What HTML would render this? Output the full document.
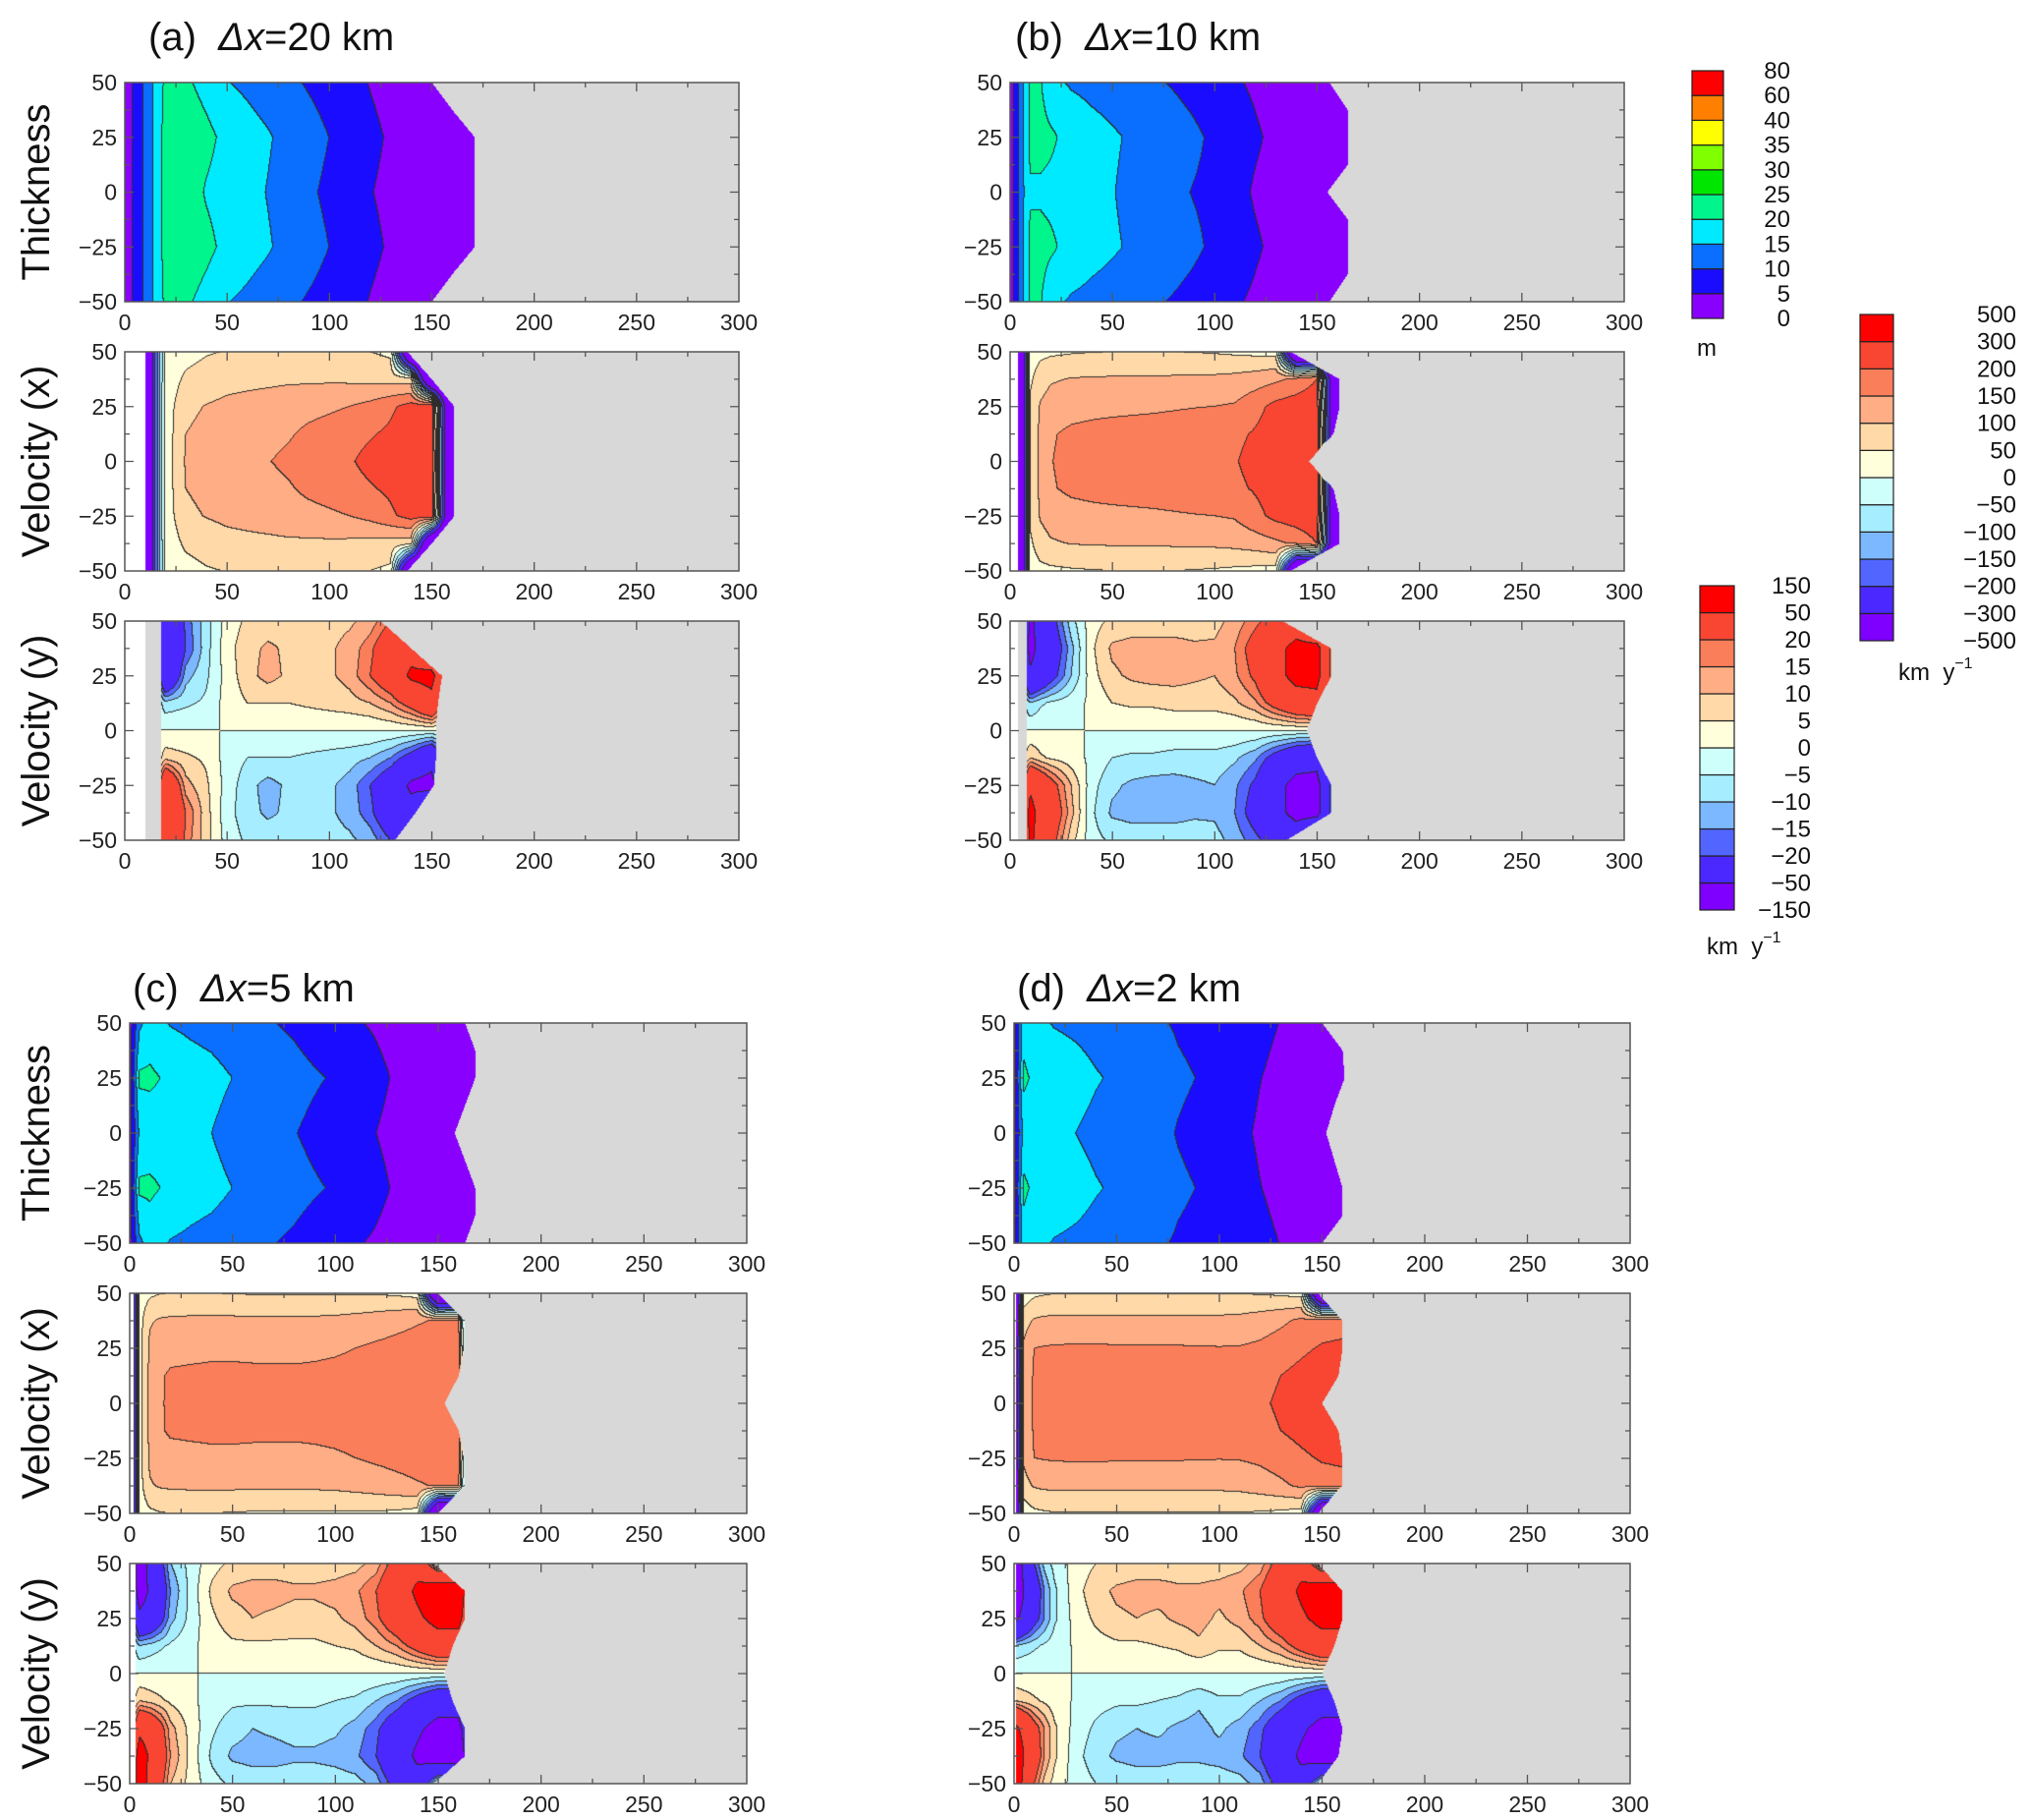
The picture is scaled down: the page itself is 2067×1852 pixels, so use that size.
<!DOCTYPE html>
<html><head><meta charset="utf-8">
<style>
body{margin:0;background:#fff;}
#root{position:relative;width:2067px;height:1852px;overflow:hidden;background:#fff;font-family:"Liberation Sans",sans-serif;}
canvas{position:absolute;}
#ov{position:absolute;left:0;top:0;}
</style></head>
<body>
<div id="root">
<svg id="ov" width="2067" height="1852" xmlns="http://www.w3.org/2000/svg"></svg>
</div>
<script>
// ---------------- data ----------------
const X_GRID=[0,5,10,15,20,30,40,50,60,70,80,90,100,110,120,130,140,150,160,170];
const Y5=[50,25,0,-25,-50];
const Y9=[50,37.5,25,12.5,0,-12.5,-25,-37.5,-50];
const X_TICK_LABELS=["0","50","100","150","200","250","300"];
const Y_TICK_LABELS=["50","25","0","\u221225","\u221250"];

const TH_LEVELS=[0,5,10,15,20,25,30,35,40,60,80];
const VX_LEVELS=[-500,-300,-200,-150,-100,-50,0,50,100,150,200,300,500];
const VY_LEVELS=[-150,-50,-20,-15,-10,-5,0,5,10,15,20,50,150];
const TH_COLORS=['#8a00ff','#1a0dff','#0a6eff','#00eaff','#00f58c','#00e600','#80ff00','#ffff00','#ff8000','#ff0000'];
const V_COLORS=['#7f00ff','#4b28ff','#5266ff','#7cb8ff','#a6eeff','#cffffb','#ffffdc','#ffd9a8','#ffad84','#fb7e5a','#f84632','#ff0000'];
const TH_LABELS=["80","60","40","35","30","25","20","15","10","5","0"];
const VX_LABELS=["500","300","200","150","100","50","0","\u221250","\u2212100","\u2212150","\u2212200","\u2212300","\u2212500"];
const VY_LABELS=["150","50","20","15","10","5","0","\u22125","\u221210","\u221215","\u221220","\u221250","\u2212150"];

// Thickness (rows at Y5)
const TH_A=[
[1,6,11,16,21,21,18,15.2,14,12.5,11,9.5,8,6.5,4.8,3.5,2.5,1.5,1,0.5],
[1,6,11,16,22,24,21.5,18.5,17,15.5,13.5,12,10,8,6,4.5,3,2,1,0.5],
[1,6,11,16,22,23,19.5,17.5,16.5,14.8,13,10.8,9,7.5,5.2,4,3,2,1,0.5],
[1,6,11,16,22,24,21.5,18.5,17,15.5,13.5,12,10,8,6,4.5,3,2,1,0.5],
[1,6,11,16,21,21,18,15.2,14,12.5,11,9.5,8,6.5,4.8,3.5,2.5,1.5,1,0.5]];
const TH_B=[
[1,12,21,20.5,16,14.5,13.8,13.2,12.5,10.6,9.6,8.5,7.2,5.5,4.3,3,2,1,0.5,0.3],
[1,12,21,22,21,18,16.5,15.5,14.5,13.5,12.2,10.8,9.2,7.5,5.6,4,3,2,1,0.5],
[1,12,19.5,19,18.5,17.5,16.5,15.2,14,12.8,10.8,9.8,9,6.5,4.5,3.5,2.5,1.5,1,0.5],
[1,12,21,22,21,18,16.5,15.5,14.5,13.5,12.2,10.8,9.2,7.5,5.6,4,3,2,1,0.5],
[1,12,21,20.5,16,14.5,13.8,13.2,12.5,10.6,9.6,8.5,7.2,5.5,4.3,3,2,1,0.5,0.3]];
const TH_C=[
[2,14,17,15.5,14.8,14.3,13.8,13,12,10.1,9.3,8,6.5,5.3,4.5,3.5,2.5,1.5,1,0.5],
[2,21,21,20,17.5,16.5,16,15,13.5,12.5,11.5,10.5,9.6,8,6,4.5,3.3,2.5,1.5,1],
[2,16,17,17,16.5,15.8,15,13.8,12.5,11.2,10.2,9,7.5,6,5,3.8,2.8,2,1,0.5],
[2,21,21,20,17.5,16.5,16,15,13.5,12.5,11.5,10.5,9.6,8,6,4.5,3.3,2.5,1.5,1],
[2,14,17,15.5,14.8,14.3,13.8,13,12,10.1,9.3,8,6.5,5.3,4.5,3.5,2.5,1.5,1,0.5]];
const TH_D=[
[2,18,16,15.3,14.7,14.2,13.6,12.8,12,10.5,9.6,9,8.2,7,6,4.9,3.5,2,1,0.5],
[2,21,19,18,17.5,16.5,15.3,14.5,13.5,12.5,10.6,9.9,9.3,6.5,5.1,4,3,2,1,0.5],
[2,17,17,16.5,16,15,14,13,12,11,9.8,9,8,5.8,4.5,4,3,2,1,0.5],
[2,21,19,18,17.5,16.5,15.3,14.5,13.5,12.5,10.6,9.9,9.3,6.5,5.1,4,3,2,1,0.5],
[2,18,16,15.3,14.7,14.2,13.6,12.8,12,10.5,9.6,9,8.2,7,6,4.9,3.5,2,1,0.5]];

// Velocity x (rows at Y9)
const VX_A=[
[-600,-600,-600,-200,10,30,45,52,55,56,58,58,56,54,50,40,-600,-600,-600,-600],
[-600,-600,-600,-200,15,60,75,85,88,90,92,92,92,90,85,80,70,-600,-600,-600],
[-600,-600,-600,-200,20,90,102,110,115,120,128,135,142,150,165,190,220,250,-600,-600],
[-600,-600,-600,-200,20,100,112,118,125,135,145,160,170,182,195,210,240,270,-600,-600],
[-600,-600,-600,-200,20,105,115,120,135,148,160,170,185,195,215,240,260,280,-600,-600],
[-600,-600,-600,-200,20,100,112,118,125,135,145,160,170,182,195,210,240,270,-600,-600],
[-600,-600,-600,-200,20,90,102,110,115,120,128,135,142,150,165,190,220,250,-600,-600],
[-600,-600,-600,-200,15,60,75,85,88,90,92,92,92,90,85,80,70,-600,-600,-600],
[-600,-600,-600,-200,10,30,45,52,55,56,58,58,56,54,50,40,-600,-600,-600,-600]];
const VX_B=[
[-600,-600,20,35,40,45,48,50,50,50,50,48,45,40,35,30,-600,-600,-600,-600],
[-600,-600,40,80,95,102,104,105,105,106,107,108,110,115,125,140,160,200,-600,-600],
[-600,-600,60,105,120,130,135,138,140,142,145,148,150,155,185,215,230,240,-600,-600],
[-600,-600,60,110,145,160,165,168,170,172,175,178,182,190,205,225,245,260,-600,-600],
[-600,-600,60,110,148,165,170,172,175,178,182,185,190,197,215,240,260,270,-600,-600],
[-600,-600,60,110,145,160,165,168,170,172,175,178,182,190,205,225,245,260,-600,-600],
[-600,-600,60,105,120,130,135,138,140,142,145,148,150,155,185,215,230,240,-600,-600],
[-600,-600,40,80,95,102,104,105,105,106,107,108,110,115,125,140,160,200,-600,-600],
[-600,-600,20,35,40,45,48,50,50,50,50,48,45,40,35,30,-600,-600,-600,-600]];
const VX_C=[
[-600,20,40,48,50,50,50,48,46,45,45,45,45,45,45,40,30,-600,-600,-600],
[-600,30,95,105,108,110,110,110,110,110,110,110,112,118,125,135,145,155,160,-600],
[-600,30,110,130,135,138,140,140,140,140,140,142,145,150,158,165,172,180,185,-600],
[-600,30,112,145,156,158,160,160,158,157,157,158,160,163,167,172,178,185,190,-600],
[-600,30,115,145,158,160,162,163,164,165,166,167,168,170,172,175,180,185,190,-600],
[-600,30,112,145,156,158,160,160,158,157,157,158,160,163,167,172,178,185,190,-600],
[-600,30,110,130,135,138,140,140,140,140,140,142,145,150,158,165,172,180,185,-600],
[-600,30,95,105,108,110,110,110,110,110,110,110,112,118,125,135,145,155,160,-600],
[-600,20,40,48,50,50,50,48,46,45,45,45,45,45,45,40,30,-600,-600,-600]];
const VX_D=[
[-600,20,40,45,48,48,48,48,48,48,48,48,48,48,45,40,30,-600,-600,-600],
[-600,80,105,110,112,112,112,112,112,112,112,112,112,115,125,140,160,175,180,-600],
[-600,110,150,153,155,156,156,155,155,154,154,153,152,153,160,175,190,205,210,-600],
[-600,118,155,160,163,166,168,170,172,173,174,176,180,184,190,200,215,235,240,-600],
[-600,120,155,162,165,168,170,172,174,175,176,178,182,186,195,205,220,240,250,-600],
[-600,118,155,160,163,166,168,170,172,173,174,176,180,184,190,200,215,235,240,-600],
[-600,110,150,153,155,156,156,155,155,154,154,153,152,153,160,175,190,205,210,-600],
[-600,80,105,110,112,112,112,112,112,112,112,112,112,115,125,140,160,175,180,-600],
[-600,20,40,45,48,48,48,48,48,48,48,48,48,48,45,40,30,-600,-600,-600]];

// Velocity y (rows at Y9)
const VY_A=[
[0,0,0,0,-45,-18,-7,2,6,7,8,8,8,9,12,20,25,0,0,0],
[0,0,0,0,-45,-20,-7,3,8,11,9,8,9,12,18,30,40,10,0,0],
[0,0,0,0,-40,-12,-6,2,8,12,9,7,9,12,20,30,55,60,0,0],
[0,0,0,0,-8,-6,-4,2,5,5,5,6,7,8,10,15,25,40,0,0],
[0,0,0,0,0,0,0,0,0,0,0,0,0,0,0,0,0,0,0,0],
[0,0,0,0,8,6,4,-2,-5,-5,-5,-6,-7,-8,-10,-15,-25,-40,0,0],
[0,0,0,0,40,12,6,-2,-8,-12,-9,-7,-9,-12,-20,-30,-55,-60,0,0],
[0,0,0,0,45,20,7,-3,-8,-11,-9,-8,-9,-12,-18,-30,-40,-10,0,0],
[0,0,0,0,45,18,7,-2,-6,-7,-8,-8,-8,-9,-12,-20,-25,0,0,0]];
const VY_B=[
[0,0,-55,-40,-25,-7,3,6,7,7,7,7,8,12,18,25,30,0,0,0],
[0,0,-60,-40,-30,-12,4,11,12,12,12,11,11,15,25,40,60,60,0,0],
[0,0,-45,-35,-25,-10,3,9,11,12,12,11,10,14,22,40,60,60,0,0],
[0,0,-10,-6,-4,-2,1,5,6,6,7,7,7,9,14,25,35,40,0,0],
[0,0,0,0,0,0,0,0,0,0,0,0,0,0,0,0,0,0,0,0],
[0,0,10,6,4,2,-1,-5,-6,-6,-7,-7,-7,-9,-14,-25,-35,-40,0,0],
[0,0,45,35,25,10,-3,-9,-11,-12,-12,-11,-10,-14,-22,-40,-60,-60,0,0],
[0,0,60,40,30,12,-4,-11,-12,-12,-12,-11,-11,-15,-25,-40,-60,-60,0,0],
[0,0,55,40,25,7,-3,-6,-7,-7,-7,-7,-8,-12,-18,-25,-30,0,0,0]];
const VY_C=[
[0,-70,-40,-25,-10,-3,3,6,7,7,7,7,7,8,12,25,40,0,0,0],
[0,-70,-45,-30,-15,-3,6,11,12,12,11,11,12,14,20,35,55,70,70,0],
[0,-40,-35,-25,-12,-3,4,8,10,9,8,8,9,12,18,30,45,60,60,0],
[0,-10,-8,-6,-4,-1,2,4,4,4,4,4,5,6,10,15,25,35,35,0],
[0,0,0,0,0,0,0,0,0,0,0,0,0,0,0,0,0,0,0,0],
[0,10,8,6,4,1,-2,-4,-4,-4,-4,-4,-5,-6,-10,-15,-25,-35,-35,0],
[0,40,35,25,12,3,-4,-8,-10,-9,-8,-8,-9,-12,-18,-30,-45,-60,-60,0],
[0,70,45,30,15,3,-6,-11,-12,-12,-11,-11,-12,-14,-20,-35,-55,-70,-70,0],
[0,70,40,25,10,3,-3,-6,-7,-7,-7,-7,-7,-8,-12,-25,-40,0,0,0]];
const VY_D=[
[-90,-40,-20,-8,-3,2,5,6,7,7,7,7,7,8,12,25,40,0,0,0],
[-90,-50,-30,-15,-6,3,8,11,12,12,11,11,12,14,20,35,55,70,70,0],
[-60,-40,-25,-15,-6,2,6,9,10,9,11,12,9,12,18,30,45,60,60,0],
[-10,-8,-6,-4,-2,0.5,3,4,4,5,6,9,6,6,10,15,25,35,35,0],
[0,0,0,0,0,0,0,0,0,0,0,0,0,0,0,0,0,0,0,0],
[10,8,6,4,2,-0.5,-3,-4,-4,-5,-6,-9,-6,-6,-10,-15,-25,-35,-35,0],
[60,40,25,15,6,-2,-6,-9,-10,-9,-11,-12,-9,-12,-18,-30,-45,-60,-60,0],
[90,50,30,15,6,-3,-8,-11,-12,-12,-11,-11,-12,-14,-20,-35,-55,-70,-70,0],
[90,40,20,8,3,-2,-5,-6,-7,-7,-7,-7,-7,-8,-12,-25,-40,0,0,0]];

// ice-front x position at Y9 rows
const FR_TH_A=[150,160,171,171,171,171,171,160,150];
const FR_TH_B=[156,165,165,165,155,165,165,165,156];
const FR_TH_C=[163,168,168,163,158,163,168,168,163];
const FR_TH_D=[150,160,161,156,152,156,160,160,150];
const FR_VX_A=[138,150,161,161,161,161,161,150,138];
const FR_VX_B=[137,161,161,158,146,158,161,161,137];
const FR_VX_C=[150,163,163,160,153,160,163,163,150];
const FR_VX_D=[148,160,160,158,150,158,160,160,148];
const FR_VY_A=[125,140,155,153,152,152,151,142,132];
const FR_VY_B=[133,157,157,150,145,150,157,157,135];
const FR_VY_C=[148,163,163,157,153,157,163,163,148];
const FR_VY_D=[148,160,160,156,150,156,160,158,148];

// ---------------- layout ----------------
const COLS={a:{L:127,R:752},b:{L:1028,R:1653},c:{L:132,R:760},d:{L:1032,R:1659}};
const TOPS_UP=[84,358,632], TOPS_LO=[1041,1316,1591];
const H_UP=223, H_LO=224;

const NS="http://www.w3.org/2000/svg";
const ov=document.getElementById('ov');
const root=document.getElementById('root');

function seg(arr,v){
  const n=arr.length;
  if(v<=arr[0]) return [0,0];
  if(v>=arr[n-1]) return [n-2,1];
  for(let i=0;i<n-1;i++){ if(v<=arr[i+1]) return [i,(v-arr[i])/(arr[i+1]-arr[i])]; }
  return [n-2,1];
}
function fieldAt(grid,ysNeg,x,y){
  const [i,tx]=seg(X_GRID,x);
  const [j,ty]=seg(ysNeg,-y);
  const a=grid[j][i],b=grid[j][i+1],c=grid[j+1][i],d=grid[j+1][i+1];
  return (a*(1-tx)+b*tx)*(1-ty)+(c*(1-tx)+d*tx)*ty;
}
const Y9N=Y9.map(v=>-v), Y5N=Y5.map(v=>-v);
function frontAt(fr,y){ const [j,t]=seg(Y9N,-y); return fr[j]*(1-t)+fr[j+1]*t; }
function levelIdx(levels,v){
  const n=levels.length-1;
  for(let k=0;k<n;k++){ if(v<levels[k+1]) return k; }
  return n-1;
}
function hex(c){return [parseInt(c.substr(1,2),16),parseInt(c.substr(3,2),16),parseInt(c.substr(5,2),16)];}

function drawPanel(p){
  const W=p.R-p.L, H=p.H;
  const cv=document.createElement('canvas');
  cv.width=W; cv.height=H;
  cv.style.left=p.L+'px'; cv.style.top=p.T+'px';
  
  
  root.insertBefore(cv, ov);
  const ctx=cv.getContext('2d');
  const img=ctx.createImageData(W,H);
  const idx=new Int16Array(W*H);
  const ysn = p.grid.length===5 ? Y5N : Y9N;
  for(let j=0;j<H;j++){
    const y=50-(j+0.5)/H*100;
    const fx=frontAt(p.front,y);
    for(let i=0;i<W;i++){
      const x=(i+0.5)/W*300;
      let k;
      if(x<p.white) k=-1;
      else if(x<p.grey || x>fx) k=-2;
      else k=levelIdx(p.levels, fieldAt(p.grid,ysn,x,y));
      idx[j*W+i]=k;
    }
  }
  const cols=p.colors.map(hex);
  for(let j=0;j<H;j++){
    for(let i=0;i<W;i++){
      const k=idx[j*W+i]; let c;
      if(k===-1) c=[255,255,255];
      else if(k===-2) c=[216,216,216];
      else{
        const r=i<W-1?idx[j*W+i+1]:k, b=j<H-1?idx[(j+1)*W+i]:k;
        if((r>=0&&r!==k)||(b>=0&&b!==k)) c=[45,45,45]; else c=cols[k];
      }
      const o=(j*W+i)*4; img.data[o]=c[0]; img.data[o+1]=c[1]; img.data[o+2]=c[2]; img.data[o+3]=255;
    }
  }
  ctx.putImageData(img,0,0);
  drawAxes(p);
}

function el(tag,attrs,parent){ const e=document.createElementNS(NS,tag); for(const k in attrs) e.setAttribute(k,attrs[k]); (parent||ov).appendChild(e); return e; }

function drawAxes(p){
  const g=el('g',{});
  
  
  const W=p.R-p.L, H=p.H;
  const sx=v=>p.L+v/300*W, sy=v=>p.T+(50-v)/100*H;
  const fr=el('rect',{x:p.L,y:p.T,width:W,height:H,fill:'none',stroke:'#555','stroke-width':1.5},g);
  
  
  let d='';
  for(let v=25; v<300; v+=25){ const L=(v%50===0)?9:5; const X=sx(v); d+=`M${X},${p.T+H}v${-L}M${X},${p.T}v${L}`; }
  for(let v=-37.5; v<50; v+=12.5){ const L=(v%25===0)?9:5; const Y=sy(v); d+=`M${p.L},${Y}h${L}M${p.R},${Y}h${-L}`; }
  const tk=el('path',{d:d,stroke:'#555','stroke-width':1.3,fill:'none'},g);
  
  
  X_TICK_LABELS.forEach((s,i)=>{
    const t=el('text',{x:sx(i*50),y:p.T+H+29,'text-anchor':'middle','font-size':23,fill:'#222'},g);
    t.textContent=s;
    
    
  });
  Y_TICK_LABELS.forEach((s,i)=>{
    const t=el('text',{x:p.L-8,y:sy(50-i*25)+8,'text-anchor':'end','font-size':23,fill:'#222'},g);
    t.textContent=s;
    
    
  });
  if(p.ytitle){
    const cy=p.T+H/2;
    const t=el('text',{x:0,y:0,transform:`translate(50,${cy}) rotate(-90)`,'text-anchor':'middle','font-size':40,fill:'#111'},g);
    t.textContent=p.ytitle;
    
    
  }
}

const PANELS=[
 ['a',0,TH_A,FR_TH_A,TH_LEVELS,TH_COLORS,0,0,'Thickness'],
 ['a',1,VX_A,FR_VX_A,VX_LEVELS,V_COLORS,10,10,'Velocity (x)'],
 ['a',2,VY_A,FR_VY_A,VY_LEVELS,V_COLORS,10,18,'Velocity (y)'],
 ['b',0,TH_B,FR_TH_B,TH_LEVELS,TH_COLORS,0,0,null],
 ['b',1,VX_B,FR_VX_B,VX_LEVELS,V_COLORS,4,4,null],
 ['b',2,VY_B,FR_VY_B,VY_LEVELS,V_COLORS,4,8,null],
 ['c',0,TH_C,FR_TH_C,TH_LEVELS,TH_COLORS,0,0,'Thickness'],
 ['c',1,VX_C,FR_VX_C,VX_LEVELS,V_COLORS,2,2,'Velocity (x)'],
 ['c',2,VY_C,FR_VY_C,VY_LEVELS,V_COLORS,3,3,'Velocity (y)'],
 ['d',0,TH_D,FR_TH_D,TH_LEVELS,TH_COLORS,0,0,null],
 ['d',1,VX_D,FR_VX_D,VX_LEVELS,V_COLORS,1,1,null],
 ['d',2,VY_D,FR_VY_D,VY_LEVELS,V_COLORS,1,1,null]];
const KINDS=['thickness','velocity-x','velocity-y'];
PANELS.forEach(q=>{
  const up=(q[0]==='a'||q[0]==='b');
  const c=COLS[q[0]];
  drawPanel({name:'panel-'+q[0]+'-'+KINDS[q[1]],L:c.L,R:c.R,T:(up?TOPS_UP:TOPS_LO)[q[1]],H:up?H_UP:H_LO,
    grid:q[2],front:q[3],levels:q[4],colors:q[5],white:q[6],grey:q[7],ytitle:q[8]});
});

// panel titles
const TITLES=[['(a)','20',151,51],['(b)','10',1033,51],['(c)','5',135,1019],['(d)','2',1035,1019]];
TITLES.forEach(t=>{
  const tx=el('text',{x:t[2],y:t[3],'font-size':40,fill:'#111'});
  tx.innerHTML=`${t[0]}\u00a0\u00a0<tspan font-style="italic">\u0394x</tspan>=${t[1]} km`;
  
  
});

// colorbars
function colorbar(name,x,y0,y1,w,colors,labels,labelRight,unit,ux,uy,sup){
  const g=el('g',{});
  
  
  const n=colors.length, h=(y1-y0)/n;
  colors.forEach((c,i)=>{
    const r=el('rect',{x:x,y:y1-(i+1)*h,width:w,height:h,fill:c,stroke:'#222','stroke-width':1.2},g);
    
    
  });
  labels.forEach((s,i)=>{
    const t=el('text',{x:labelRight,y:y0+i*h+8,'text-anchor':'end','font-size':24,fill:'#111'},g);
    t.textContent=s;
    
    
  });
  const u=el('text',{x:ux,y:uy,'font-size':24,fill:'#111'},g);
  u.innerHTML=sup?`km\u00a0\u00a0y<tspan dy="-12" font-size="16">\u22121</tspan>`:'m';
  
  
}
colorbar('thickness-colorbar',1722,72,324,32,TH_COLORS,TH_LABELS,1822,'m',1727,362,false);
colorbar('velocity-x-colorbar',1893,320,652,34,V_COLORS,VX_LABELS,2052,'km',1932,692,true);
colorbar('velocity-y-colorbar',1730,596,926,35,V_COLORS,VY_LABELS,1843,'km',1737,971,true);
</script>
</body></html>
